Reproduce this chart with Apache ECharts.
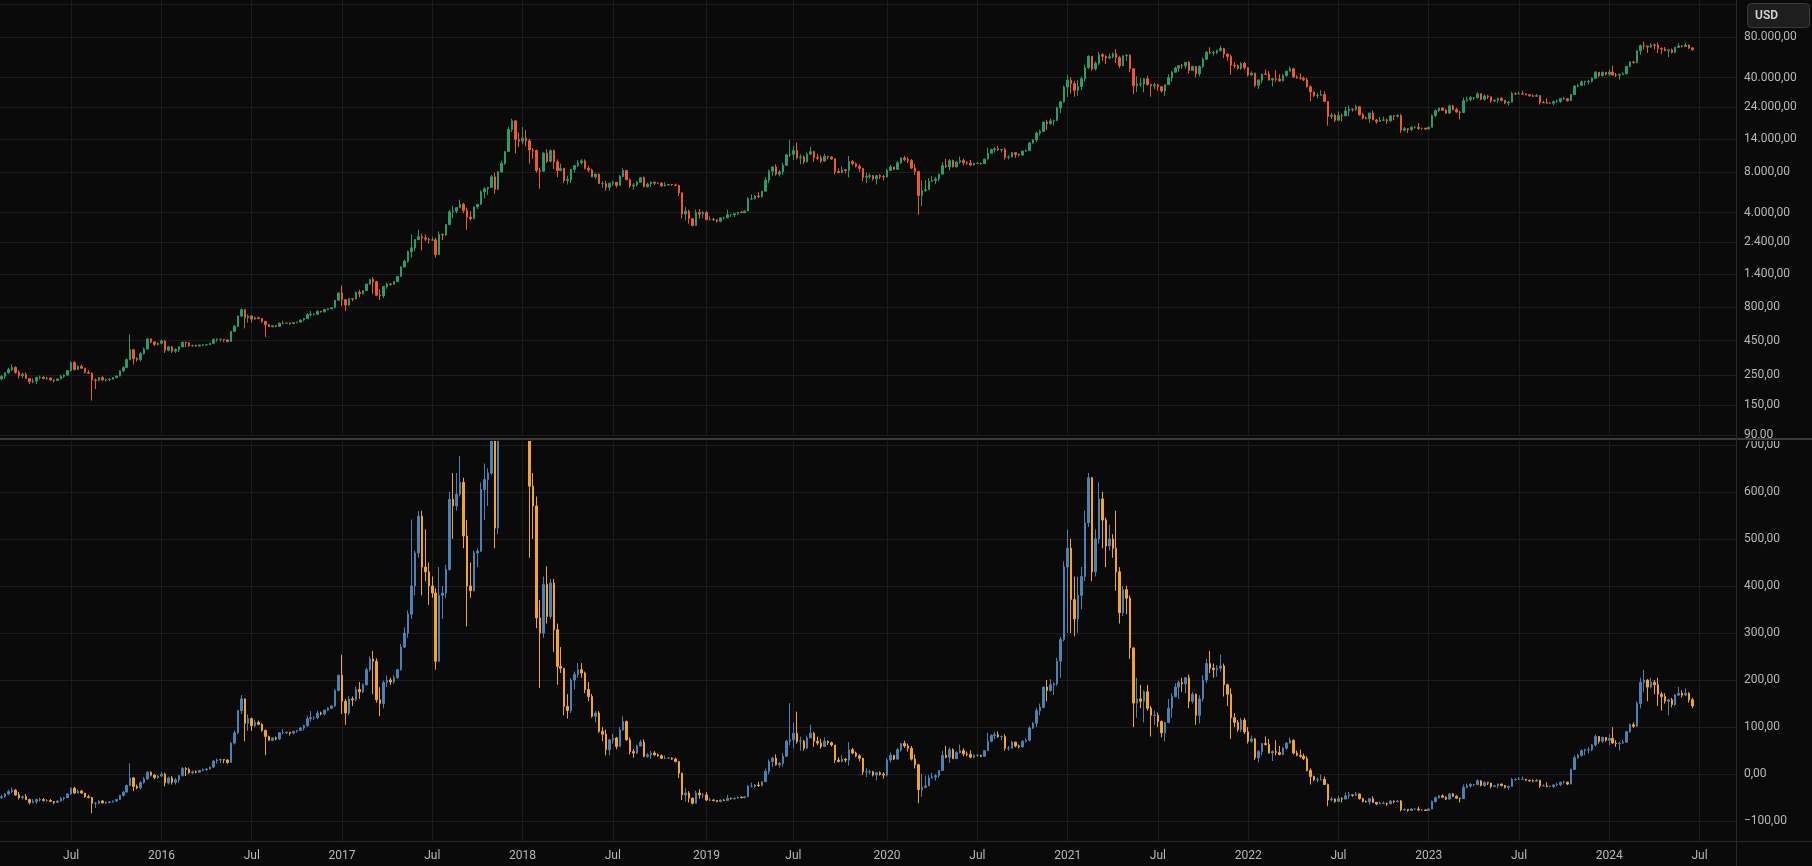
<!DOCTYPE html>
<html><head><meta charset="utf-8">
<script src="https://cdn.jsdelivr.net/npm/echarts@6/dist/echarts.min.js"></script>
<style>html,body{margin:0;padding:0;background:#0a0a0a;overflow:hidden}
#paneTop{position:absolute;left:0;top:0;width:1812px;height:441px}
#paneBot{position:absolute;left:0;top:438px;width:1812px;height:428px}</style>
</head><body><div id="paneTop"></div><div id="paneBot"></div>
<script>
// ---- categories: weekly bars (Monday start) ----
const firstWeek = '2015-02-16';
const totalWeeks = 500;

// ---- BTC/USD weekly candles (open of first bar, then close/high/low per week) ----
const priceOpenFirst = 234;
const priceClose = [
245,260,275,285,262,247,254,236,223,226,240,241,236,238,230,228,234,245,250,270,310,275,290,281,262,258,230,229,240,230,232,233,240,246,269,285,325,385,331,325,360,390,463,440,422,430,
448,382,404,376,386,405,437,432,412,414,410,417,420,420,430,460,460,460,456,443,527,575,685,763,665,685,650,665,655,625,590,570,580,574,607,606,608,602,612,617,640,655,700,705,705,740,735,765,775,790,895,1015,
905,825,920,915,1025,1000,1055,1180,1275,1230,975,965,1130,1180,1175,1230,1345,1580,1740,2050,2190,2520,2650,2590,2540,2500,2510,1950,2750,2730,3250,4050,4100,4350,4600,4150,3700,3600,4400,4600,5700,6000,6150,7350,5950,8000,9250,11300,16500,19100,13900,13500,
14200,13600,11600,11500,8200,8100,11000,9600,11500,9500,8200,8500,6900,7000,8350,8900,9350,9650,8500,8250,7350,7700,6550,6550,6150,6600,6700,6350,7400,8200,7000,6300,6400,6700,7250,6200,6500,6700,6600,6600,6300,6400,6450,6400,6350,5600,3900,4100,3600,3200,4000,3900,4000,
3550,3550,3530,3450,3650,3650,3850,3850,3920,4020,3990,4100,5050,5050,5300,5250,5750,6950,8100,8700,7700,8000,8950,10700,10800,11500,10200,10300,9500,10800,11300,10200,10100,9600,10400,10300,10000,8050,7900,8300,8200,9550,9200,8800,8500,7300,7400,7500,7100,7500,7400,7350,
8200,8700,8350,9350,10150,9900,9700,8550,8050,5350,5800,5900,6800,6900,7100,7700,8900,8700,9700,8700,9450,9700,9350,9300,9000,9250,9250,9200,9950,11000,11700,11850,11650,11700,10250,10300,11100,10750,10650,11400,11500,13100,13800,15500,15950,18700,18200,19100,19250,23800,26400,34000,
38200,36000,32100,34300,39200,47200,57500,46300,50900,59000,57400,55800,57000,60000,56200,49000,57800,58200,46500,34700,35700,35800,39100,35500,34700,35300,34200,31800,35400,39900,43800,47000,49000,48900,51800,45100,48300,42700,48200,54700,61500,60900,61300,63300,65500,59700,57300,49400,48900,46700,50800,47300,
41800,43100,35000,38200,42400,42200,38300,39100,38800,37800,41300,44500,46400,40400,39700,39500,38500,34100,31300,29400,29500,29900,26600,20550,21000,19300,20900,20800,22600,23300,23200,24300,21200,20000,19800,21800,19400,18900,19300,19400,19100,20800,20700,20900,16300,16700,16450,17100,17100,16750,16850,16600,
17100,20900,22700,23750,22900,21800,24600,23200,22200,22000,26900,27500,28300,28300,30300,27600,29200,28800,26800,27100,28100,27100,25900,26300,30500,30300,30300,30250,29800,29300,29000,29400,26100,26000,25800,25800,26500,26600,27900,27900,26900,29900,34500,35000,37100,37400,37450,39500,43800,41400,43700,42300,
43900,41700,41600,42000,42600,48300,52100,51700,63000,68900,68400,67200,69600,69400,65700,64900,63100,64000,61500,66900,68500,67800,69600,66300,64300
];
const priceHigh = [
250,262,283,300,290,270,260,262,238,237,244,248,245,242,242,232,236,252,253,272,315,315,296,298,282,272,262,236,242,245,235,237,242,248,272,290,332,500,390,340,370,400,470,470,445,438,
460,452,412,410,395,407,445,441,440,420,420,420,424,425,432,465,467,465,460,456,532,585,690,780,765,705,690,680,675,660,630,597,583,585,610,630,612,610,615,620,645,660,720,745,715,755,750,770,780,795,900,1020,
1150,910,935,925,1040,1070,1060,1190,1290,1330,1250,1075,1140,1210,1200,1245,1350,1600,1790,2090,2760,2540,2980,2790,2760,2600,2650,2600,2900,2800,3300,4200,4480,4380,4980,4720,4350,4100,4420,4620,5850,6150,6200,7600,7900,8100,9700,11400,17200,19800,19200,15700,
17200,16300,14000,12000,11700,8600,11200,11800,11700,11700,9900,9200,8500,7500,8400,9000,9750,9950,9900,8850,8450,7750,7770,6800,6850,6650,6900,6750,7580,8500,8250,7150,6600,6800,7350,7400,6650,6800,6800,6700,6700,6700,6500,6500,6550,6400,5600,4400,4200,3600,4200,4250,4100,
4100,3750,3650,3550,3700,3720,4200,3900,3950,4050,4100,4150,5200,5450,5400,5650,5800,7300,8300,8850,9100,8200,9350,10900,13800,12400,13200,10800,10600,11100,12300,11500,10900,10600,10900,10500,10400,10000,8500,8800,8400,10500,9800,9400,9100,8500,7900,7800,7600,7600,7700,7600,
8450,9000,8700,9600,10200,10500,10250,9950,9200,8150,6900,6950,7200,7450,7300,7750,9450,10000,9950,9850,9600,10400,10000,9600,9800,9350,9450,9350,10000,12100,11900,12200,12450,11800,12050,10600,11200,11180,10950,11500,11750,13350,14000,15950,16450,18800,19450,19900,19450,24300,26900,34800,
41950,40100,37800,38500,40900,49700,58300,57500,52600,61800,60600,58400,60200,61300,64900,57500,58500,59600,59600,46500,40900,39500,39500,41300,36000,36600,35900,34600,35500,42300,44800,48100,49400,50500,51900,52900,48800,48400,49200,56100,62900,67000,63000,64300,69000,66300,59900,59100,51900,50000,52000,52100,
47500,44500,43500,38900,42700,45800,44700,39800,45400,42300,42300,44900,48200,47000,41500,42900,40700,39900,35000,31500,30600,32200,31600,26800,21900,21500,22400,21600,24300,24700,23600,25200,24500,21900,20500,21900,22700,19700,20400,20500,19900,20900,21000,21400,21400,17200,16900,17400,17400,18400,16950,16900,
17300,21300,23300,23900,24200,23400,25200,25100,23900,22600,28400,28900,29100,28600,31000,30500,30000,29800,28800,27600,28300,28400,27300,26800,31400,31000,31500,31800,30400,30000,30000,30200,29500,26800,28100,26400,27000,27500,28000,28600,28000,30300,35200,35900,37900,37900,38400,40000,44700,43900,44300,43800,
45900,48900,43200,42800,43800,48600,52800,52900,64000,70100,73800,68600,71700,71300,72800,66900,67200,64700,65500,67500,71900,69600,71900,70000,66900
];
const priceLow = [
229,234,255,268,255,236,237,235,214,218,215,232,232,230,228,220,227,233,238,248,265,270,272,278,258,256,162,197,225,228,224,226,232,236,245,263,282,325,300,315,316,355,385,430,410,415,
423,365,375,365,365,370,400,402,405,405,405,408,412,413,418,425,441,443,440,438,440,520,570,670,555,610,610,640,650,610,480,568,565,565,568,600,600,590,598,605,615,625,650,680,690,695,725,730,755,770,790,890,
810,750,815,880,915,940,990,1055,1170,1000,960,900,930,1090,1150,1170,1230,1345,1570,1700,1850,2080,2500,2100,2450,2350,2470,1850,1950,2500,2680,3250,3650,3950,4300,3950,2980,3500,3600,4250,4600,5100,5400,6100,5500,5850,7900,9000,11300,15800,11000,12200,
12800,12400,9200,10000,7900,6000,8000,9300,9400,8400,7300,8100,6600,6450,6600,7900,8700,9100,8350,7950,7300,7100,6500,6100,5800,5800,6300,6100,6350,7350,6950,6100,5900,6250,6700,6150,6150,6200,6400,6500,6200,6250,6350,6300,6300,5300,3600,3500,3300,3150,3200,3600,3650,
3500,3480,3480,3380,3390,3560,3650,3700,3700,3850,3950,3950,4100,4950,5000,5100,5150,5750,6600,7500,7500,7400,7600,8900,10300,9800,9900,9100,9150,9400,10800,9500,9800,9300,9600,9900,9800,7700,7800,7800,7800,7300,8900,8600,8000,6800,6600,7100,6900,6450,7100,6900,
7300,8100,8250,8300,9150,9600,9300,8400,7600,3850,4450,5700,5900,6750,6500,6800,7650,8600,8200,8650,8650,9200,8950,9000,8850,8900,9100,9050,9150,9900,10950,11100,11400,11150,9900,9900,10300,10150,10400,10550,11200,11400,12950,13300,14850,15800,16300,18000,17600,19000,21800,26100,
28700,30400,28800,29300,32300,37400,46200,44900,45100,49300,53300,50400,54800,55500,51300,47000,48800,53000,43900,30000,31200,34000,31000,34800,28800,32700,32100,31000,29300,35200,37300,43800,44200,46400,46600,43000,44800,40000,40700,47100,53900,59500,58000,59600,62300,55600,53300,42000,46800,45600,45500,45700,
40700,41300,34000,32900,36300,41700,38000,34300,37200,37200,37600,40500,44500,39600,39200,38600,37600,33700,26700,28700,28000,29300,26500,17600,19700,18700,19300,18900,20800,20700,22400,22700,20800,19600,19600,18500,19300,18200,18800,19100,18200,18900,19300,20200,15600,16000,15500,16000,16700,16400,16300,16400,
16600,17100,20400,22300,22700,21400,21500,22800,21900,19600,21900,26600,26600,27300,28200,27100,27000,27700,25900,26500,25900,26600,25400,24800,26200,29600,29700,29900,29500,28900,28600,28800,25200,25800,25400,25400,24900,26000,26000,27200,26500,26900,29800,33900,34500,34800,35600,36800,39000,40200,40600,41500,
40800,41600,40300,38600,41900,42300,47700,50700,50900,59000,64500,60800,66500,64500,60700,59600,62800,56600,60200,60700,66700,66700,67600,65100,63400
];

// ---- oscillator (lower pane) weekly candles ----
const oscOpenFirst = -50;
const oscClose = [
-48,-42,-37,-34,-44,-50,-48,-54,-60,-58,-54,-54,-56,-56,-58,-60,-57,-52,-50,-42,-30,-40,-36,-40,-48,-50,-62,-62,-57,-61,-60,-59,-57,-54,-45,-38,-24,-8,-26,-29,-18,-10,4,-2,-7,-4,
0,-18,-8,-17,-12,-3,12,10,3,5,4,8,10,11,15,28,30,31,30,25,66,88,135,160,108,118,103,110,106,93,80,72,77,75,88,88,89,87,91,93,98,103,118,120,120,130,128,136,140,145,178,210,
155,130,160,158,180,175,190,222,245,240,158,150,195,200,196,205,222,270,300,340,400,470,548,440,430,400,385,240,380,385,435,584,570,595,620,506,400,390,470,474,605,626,640,800,523,820,950,1100,1500,1700,1150,1050,
1050,950,612,570,332,300,403,335,406,307,229,225,144,135,200,212,222,215,180,165,123,130,91,85,52,73,77,59,94,112,73,48,45,60,68,38,41,45,41,39,34,34,34,32,27,2,-44,-40,-51,-62,-40,-44,-44,
-55,-55,-56,-58,-55,-56,-51,-52,-51,-49,-50,-48,-26,-26,-23,-24,-16,6,27,34,20,23,38,70,73,87,70,70,55,77,87,70,66,59,70,67,62,30,27,32,30,52,45,39,34,5,5,5,-2,3,0,-2,
30,40,32,52,65,60,55,32,20,-33,-28,-25,-8,-6,-3,8,40,36,52,33,46,50,43,42,36,40,40,38,50,70,82,84,80,80,55,55,68,60,58,70,72,98,108,135,142,185,178,190,192,240,286,440,
480,371,330,380,420,534,630,430,500,585,540,485,500,480,430,343,392,374,268,151,160,155,175,140,125,125,112,88,110,140,165,185,195,192,205,155,170,125,160,200,235,225,222,225,230,190,170,120,110,95,115,90,
70,75,35,48,65,63,45,48,46,42,55,66,72,45,40,38,33,8,-5,-12,-12,-11,-22,-55,-53,-58,-52,-53,-46,-44,-45,-42,-52,-58,-59,-52,-60,-63,-62,-62,-63,-57,-58,-57,-76,-75,-77,-74,-74,-76,-76,-77,
-74,-58,-50,-46,-49,-53,-42,-47,-51,-52,-28,-25,-22,-22,-14,-24,-18,-19,-26,-25,-21,-24,-28,-26,-11,-11,-11,-11,-13,-14,-15,-13,-25,-25,-26,-26,-23,-22,-17,-17,-21,10,35,40,50,52,52,62,80,70,78,72,
76,66,65,66,68,90,105,102,150,195,200,185,195,190,170,165,155,158,148,168,172,168,172,158,145
];
const oscHigh = [
-44,-40,-33,-28,-32,-38,-45,-42,-52,-53,-52,-50,-51,-53,-53,-57,-56,-48,-48,-41,-28,-27,-33,-33,-40,-44,-48,-59,-56,-55,-58,-57,-56,-53,-44,-36,-22,23,-6,-22,-15,-6,6,6,0,-2,
5,3,-5,-4,-8,-2,15,15,14,8,8,9,12,13,16,30,33,33,32,32,68,93,137,168,161,127,120,116,114,108,95,82,78,80,89,96,91,90,92,94,100,105,124,134,123,135,133,137,142,147,180,212,
254,160,166,165,186,196,193,226,250,262,246,185,199,210,205,210,224,276,312,348,541,475,559,560,520,450,420,395,440,400,445,600,640,640,676,630,540,450,475,480,620,660,650,850,880,830,1000,1110,1600,1780,1710,1300,
1400,1200,1000,640,590,370,420,442,415,415,320,270,226,170,204,218,236,236,218,196,170,134,134,100,95,75,86,79,100,123,114,78,53,63,73,74,45,49,49,44,42,40,36,36,35,28,3,-30,-36,-50,-35,-32,-40,
-38,-50,-53,-55,-54,-53,-44,-50,-50,-48,-47,-47,-23,-18,-21,-16,-15,12,31,37,42,26,45,73,151,110,133,80,73,82,105,90,80,75,78,72,69,62,36,40,34,68,56,48,43,34,13,10,7,5,6,4,
34,46,40,56,66,71,65,60,42,22,0,-3,-2,3,0,9,50,60,57,55,49,63,55,48,51,42,43,41,51,88,85,89,91,82,85,60,70,69,63,72,76,102,111,141,150,186,200,202,195,247,292,452,
520,500,420,420,440,560,640,632,520,620,600,545,530,510,560,440,400,400,380,270,205,190,178,190,145,135,131,114,111,160,172,193,199,205,206,212,175,171,168,210,245,262,235,232,254,235,192,182,130,115,120,120,
100,82,77,51,66,80,75,51,72,60,58,68,78,74,50,52,44,38,12,-3,-7,-1,-5,-20,-48,-51,-46,-49,-39,-38,-43,-38,-41,-50,-56,-51,-47,-59,-58,-58,-60,-56,-56,-55,-55,-73,-74,-73,-73,-69,-75,-75,
-73,-56,-48,-45,-43,-47,-40,-40,-45,-50,-22,-20,-19,-21,-11,-13,-15,-16,-19,-23,-20,-20,-23,-24,-8,-9,-6,-5,-10,-12,-11,-10,-12,-22,-17,-24,-21,-18,-16,-14,-16,12,40,43,53,54,57,64,84,81,80,79,
85,100,72,69,73,92,108,110,155,205,222,202,205,200,205,175,172,160,162,170,185,178,182,174,162
];
const oscLow = [
-53,-50,-45,-40,-46,-54,-54,-55,-64,-62,-63,-58,-58,-59,-59,-64,-61,-58,-56,-51,-44,-42,-41,-42,-50,-51,-83,-72,-64,-62,-64,-62,-60,-59,-55,-48,-39,-24,-36,-32,-32,-20,-12,-5,-11,-10,
-6,-26,-22,-22,-22,-18,-5,-4,1,0,2,3,6,7,10,13,22,24,23,22,24,63,85,128,70,92,92,100,104,90,40,71,70,72,73,85,86,82,85,88,92,93,101,112,115,117,125,125,134,138,143,176,
128,105,125,145,155,160,172,188,218,170,152,123,140,185,190,192,203,220,268,290,330,380,460,380,410,360,375,222,238,330,375,432,500,560,590,480,314,375,388,440,472,540,570,635,480,510,810,920,1100,1400,850,900,
900,800,460,500,310,183,290,320,330,260,190,215,125,118,130,180,205,205,172,155,120,110,88,70,40,40,65,53,59,92,71,42,35,43,59,36,35,33,39,37,32,32,32,30,25,-8,-55,-58,-60,-64,-62,-52,-51,
-57,-57,-58,-60,-60,-57,-56,-54,-54,-52,-51,-51,-48,-28,-29,-27,-26,-16,0,15,18,14,16,37,62,55,65,50,50,53,77,58,62,54,59,62,59,24,25,25,25,18,42,36,27,-2,-6,0,-5,-13,-3,-9,
-5,25,30,30,48,56,48,29,12,-62,-48,-30,-25,-9,-14,-8,7,34,24,32,32,44,38,38,34,34,37,36,37,49,68,74,77,72,50,50,55,57,55,57,67,70,96,100,125,140,155,175,168,188,205,282,
300,300,293,300,350,410,525,410,420,490,480,440,475,460,390,320,336,340,245,100,120,140,110,135,80,105,100,78,70,108,120,163,160,175,172,140,150,105,108,154,194,215,205,207,218,165,145,75,100,90,90,85,
65,67,30,25,40,61,44,28,40,40,40,52,65,42,38,35,30,6,-22,-15,-17,-13,-22,-68,-58,-61,-58,-60,-53,-52,-48,-47,-54,-60,-60,-65,-61,-66,-64,-63,-67,-64,-62,-60,-79,-78,-80,-78,-76,-77,-78,-78,
-78,-74,-60,-52,-50,-55,-54,-48,-52,-60,-52,-30,-29,-26,-23,-26,-27,-23,-30,-27,-30,-26,-30,-33,-27,-14,-13,-12,-14,-16,-17,-16,-29,-26,-28,-28,-30,-25,-25,-20,-23,-21,9,33,37,40,44,49,59,65,66,69,
62,65,58,50,64,67,88,98,100,140,175,155,182,170,145,135,150,125,142,145,166,163,166,152,140
];

// ---- axis ticks ----
const priceTicks = [90,150,250,450,800,1400,2400,4000,8000,14000,24000,40000,80000];
const priceGridTicks = [90,150,250,450,800,1400,2400,4000,8000,14000,24000,40000,80000,140000];
const oscTicks = [-100,0,100,200,300,400,500,600,700];

// ---- build ----
const DAY = 86400000;
const t0 = Date.parse(firstWeek + 'T00:00:00Z');
const cats = [];
for (let i = 0; i < totalWeeks; i++) cats.push(new Date(t0 + i * 7 * DAY).toISOString().slice(0, 10));
const priceData = priceClose.map((c, i) => [i ? priceClose[i - 1] : priceOpenFirst, c, priceLow[i], priceHigh[i]]);
const oscData = oscClose.map((c, i) => [i ? oscClose[i - 1] : oscOpenFirst, c, oscLow[i], oscHigh[i]]);

function isMark(v) { const d = new Date(v + 'T00:00:00Z'); return d.getUTCDate() <= 7 && (d.getUTCMonth() === 0 || d.getUTCMonth() === 6); }
function markLabel(v) { const d = new Date(v + 'T00:00:00Z'); return d.getUTCMonth() === 0 ? String(d.getUTCFullYear()) : 'Jul'; }
function fmt(v) { const neg = v < 0; const s = Math.round(Math.abs(v)).toString().replace(/\B(?=(\d{3})+(?!\d))/g, '.'); return (neg ? '\u2212' : '') + s + ',00'; }

const BG = '#0a0a0a', GRID = '#1c1c1c', TXT = '#b8b8b8', FONT = 'Roboto, "Liberation Sans", sans-serif';
const AXLINE = '#2a2a2a';

// upper pane: price (log scale)
const chartTop = echarts.init(document.getElementById('paneTop'), null, { renderer: 'canvas' });
chartTop.setOption({
  animation: false,
  backgroundColor: BG,
  grid: { left: 0, right: 76, top: 0, height: 438 },
  xAxis: { type: 'category', data: cats, axisLine: { show: false }, axisTick: { show: false }, axisLabel: { show: false },
    splitLine: { show: true, interval: (i, v) => isMark(v), alignWithLabel: true, lineStyle: { color: GRID, width: 1 } } },
  yAxis: { type: 'log', logBase: 10, position: 'right', min: 88.5, max: 150000,
    axisLine: { show: false }, axisTick: { show: false, customValues: priceGridTicks },
    axisLabel: { customValues: priceTicks, formatter: fmt, color: TXT, fontSize: 12, fontFamily: FONT, margin: 8 },
    splitLine: { show: true, lineStyle: { color: GRID, width: 1 } } },
  series: [
    { type: 'candlestick', data: priceData, barWidth: 2, clip: true,
      itemStyle: { color: '#2b9b68', color0: '#ee5a29', borderColor: '#2b9b68', borderColor0: '#ee5a29', borderWidth: 1 } }
  ],
  graphic: [
    { type: 'rect', shape: { x: 1736, y: 0, width: 1, height: 441 }, style: { fill: AXLINE }, silent: true, z: 100 },
    { type: 'rect', shape: { x: 1747.5, y: 3.5, width: 62, height: 24, r: 4 }, style: { fill: '#1e1e1e', stroke: '#3c3c3c', lineWidth: 1 }, silent: true, z: 101 },
    { type: 'text', x: 1755, y: 15.5, style: { text: 'USD', fill: '#d6d6d6', font: '600 12px ' + FONT, textVerticalAlign: 'middle' }, silent: true, z: 102 }
  ]
});

// lower pane: oscillator (its own canvas clips the bars that run above 700)
const chartBot = echarts.init(document.getElementById('paneBot'), null, { renderer: 'canvas' });
chartBot.setOption({
  animation: false,
  backgroundColor: BG,
  grid: { left: 0, right: 76, top: 3, height: 400 },
  xAxis: { type: 'category', data: cats, axisLine: { show: false }, axisTick: { show: false },
    axisLabel: { show: true, interval: (i, v) => isMark(v), formatter: markLabel, color: TXT, fontSize: 12, fontFamily: FONT, margin: 9 },
    splitLine: { show: true, interval: (i, v) => isMark(v), alignWithLabel: true, lineStyle: { color: GRID, width: 1 } } },
  yAxis: { type: 'value', position: 'right', min: -142, max: 708,
    axisLine: { show: false }, axisTick: { show: false, customValues: oscTicks },
    axisLabel: { customValues: oscTicks, formatter: fmt, color: TXT, fontSize: 12, fontFamily: FONT, margin: 8 },
    splitLine: { show: true, lineStyle: { color: GRID, width: 1 } } },
  series: [
    { type: 'candlestick', data: oscData, barWidth: 2, clip: true,
      itemStyle: { color: '#4e80b4', color0: '#f2a52c', borderColor: '#4e80b4', borderColor0: '#f2a52c', borderWidth: 1 } }
  ],
  graphic: [
    { type: 'rect', shape: { x: 0, y: 0, width: 1812, height: 3 }, style: { fill: BG }, silent: true, z: 99 },
    { type: 'rect', shape: { x: 0, y: 0, width: 1812, height: 2 }, style: { fill: '#3a3a3a' }, silent: true, z: 100 },
    { type: 'rect', shape: { x: 1736, y: 0, width: 1, height: 428 }, style: { fill: AXLINE }, silent: true, z: 100 },
    { type: 'rect', shape: { x: 0, y: 403, width: 1812, height: 1 }, style: { fill: AXLINE }, silent: true, z: 100 }
  ]
});
</script>
</body></html>
